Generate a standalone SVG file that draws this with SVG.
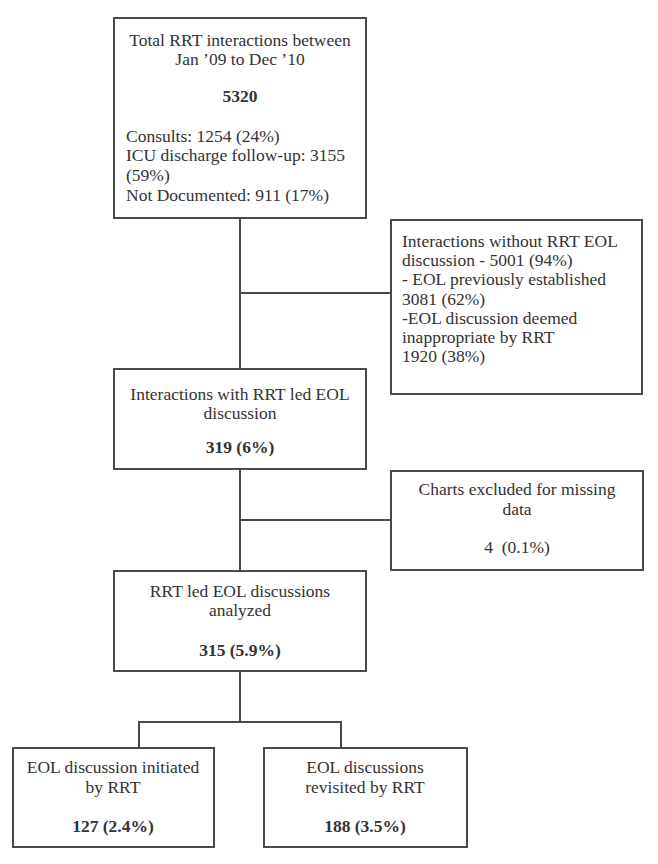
<svg xmlns="http://www.w3.org/2000/svg" width="658" height="864" viewBox="0 0 658 864">
<style>
.box{fill:#fff;stroke:#4a4a4a;stroke-width:2}
.ln{stroke:#4a4a4a;stroke-width:2;fill:none}
text{font-family:"Liberation Serif","Times New Roman",serif;font-size:17.5px;fill:#333}
.c{text-anchor:middle}
.b{font-weight:bold}
</style>
<rect width="658" height="864" fill="#fff"/>
<g id="connectors">
<path class="ln" d="M240 218V369"/>
<path class="ln" d="M240 293H391"/>
<path class="ln" d="M240 469V571"/>
<path class="ln" d="M240 520H391"/>
<path class="ln" d="M240 671V722"/>
<path class="ln" d="M139 748V722H341V748"/>
</g>
<g id="total">
<rect class="box" x="114" y="18" width="252" height="200"/>
<text class="c" x="240" y="46">Total RRT interactions between</text>
<text class="c" x="240" y="65">Jan ’09 to Dec ’10</text>
<text class="c b" x="240" y="102">5320</text>
<text x="126" y="142">Consults: 1254 (24%)</text>
<text x="126" y="161">ICU discharge follow-up: 3155</text>
<text x="126" y="181">(59%)</text>
<text x="126" y="201">Not Documented: 911 (17%)</text>
</g>
<g id="without">
<rect class="box" x="391" y="220" width="251" height="174"/>
<text x="402" y="247">Interactions without RRT EOL</text>
<text x="402" y="266">discussion - 5001 (94%)</text>
<text x="402" y="285">- EOL previously established</text>
<text x="402" y="305">3081 (62%)</text>
<text x="402" y="324">-EOL discussion deemed</text>
<text x="402" y="343">inappropriate by RRT</text>
<text x="402" y="362">1920 (38%)</text>
</g>
<g id="with">
<rect class="box" x="114" y="369" width="252" height="100"/>
<text class="c" x="240" y="400">Interactions with RRT led EOL</text>
<text class="c" x="240" y="419">discussion</text>
<text class="c b" x="240" y="453">319 (6%)</text>
</g>
<g id="excluded">
<rect class="box" x="391" y="471" width="252" height="99"/>
<text class="c" x="517" y="495">Charts excluded for missing</text>
<text class="c" x="517" y="515">data</text>
<text class="c" x="517" y="553" xml:space="preserve">4  (0.1%)</text>
</g>
<g id="analyzed">
<rect class="box" x="114" y="571" width="252" height="100"/>
<text class="c" x="240" y="597">RRT led EOL discussions</text>
<text class="c" x="240" y="616">analyzed</text>
<text class="c b" x="240" y="656">315 (5.9%)</text>
</g>
<g id="initiated">
<rect class="box" x="13" y="748" width="201" height="99"/>
<text class="c" x="113" y="773">EOL discussion initiated</text>
<text class="c" x="113" y="793">by RRT</text>
<text class="c b" x="113" y="832">127 (2.4%)</text>
</g>
<g id="revisited">
<rect class="box" x="264" y="748" width="203" height="99"/>
<text class="c" x="365" y="773">EOL discussions</text>
<text class="c" x="365" y="793">revisited by RRT</text>
<text class="c b" x="365" y="832">188 (3.5%)</text>
</g>
</svg>
